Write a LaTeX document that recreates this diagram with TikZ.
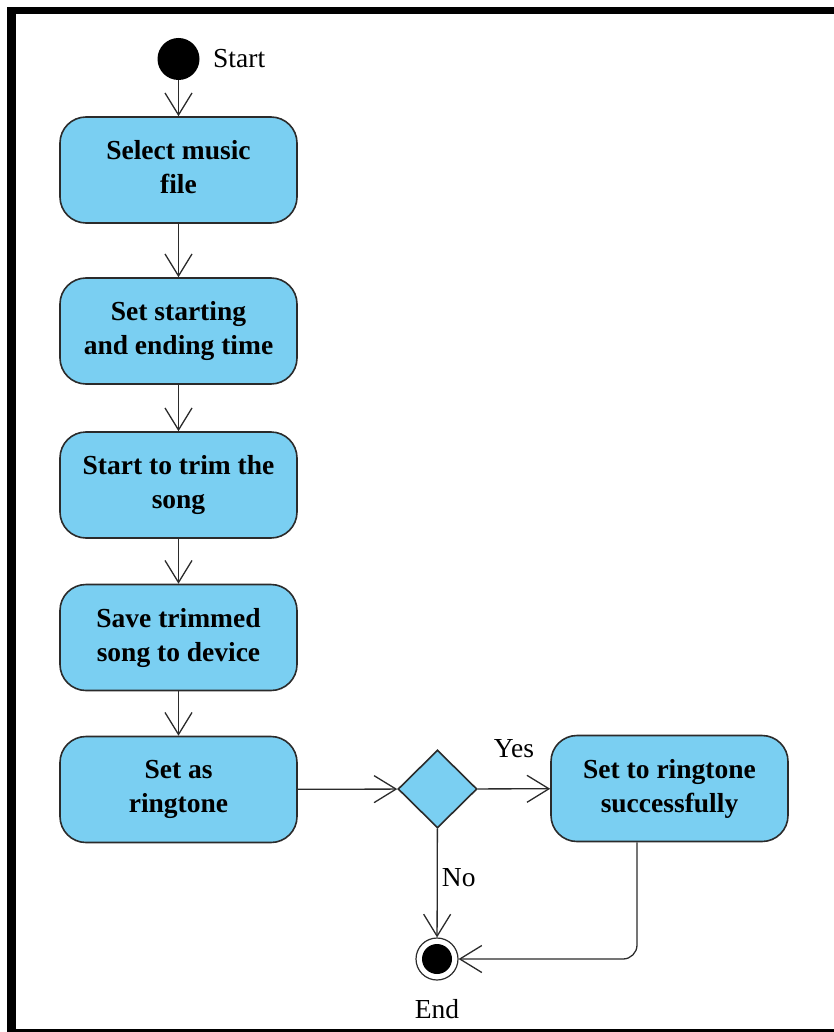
\documentclass[tikz,border=0pt]{standalone}
\usepackage{fontspec}
\setmainfont{Liberation Serif}
\usetikzlibrary{arrows.meta,shapes.geometric}
\definecolor{actfill}{HTML}{7ACFF2}
\definecolor{edge}{HTML}{2B2B2B}
\begin{document}
\begin{tikzpicture}[x=1pt,y=-1pt,
  activity/.style={draw=edge, line width=1.6pt, fill=actfill, rounded corners=26pt,
    minimum width=237pt, minimum height=106pt, align=center, inner sep=0pt,
    font=\fontsize{27.5}{34}\selectfont\bfseries},
  flow/.style={draw=edge, line width=1.3pt,
    -{Straight Barb[length=22pt,width=27pt,line width=1.3pt]}},
  lbl/.style={font=\fontsize{27.5}{34}\selectfont, inner sep=0pt},
]
\useasboundingbox (0,0) rectangle (834,1032);

% frame
\fill[black] (7,7) rectangle (834,14.5);
\fill[black] (7,7) rectangle (16,1032);
\fill[black] (7,1029) rectangle (834,1032);

% initial node
\node[circle, fill=black, minimum size=42pt, inner sep=0pt] (start) at (178.5,59) {};
\node[lbl, anchor=west] (startlbl) at (213,59) {Start};

% activities
\node[activity, text depth=7pt] (a1) at (178.5,170) {Select music\\file};
\node[activity] (a2) at (178.5,331)   {Set starting\\and ending time};
\node[activity] (a3) at (178.5,485)   {Start to trim the\\song};
\node[activity] (a4) at (178.5,637.5) {Save trimmed\\song to device};
\node[activity] (a5) at (178.5,789.5) {Set as\\ringtone};
\node[activity] (a6) at (669.5,788.5) {Set to ringtone\\successfully};

% decision
\node[diamond, draw=edge, line width=1.6pt, fill=actfill, minimum width=79pt,
      minimum height=78pt, inner sep=0pt] (dec) at (437.5,789) {};

% final node
\node[circle, draw=edge, line width=1.2pt, fill=white, minimum size=42pt, inner sep=0pt] (end) at (437,959) {};
\node[circle, fill=black, minimum size=30pt, inner sep=0pt] (endin) at (end.center) {};
\node[lbl] (endlbl) at (437,1009) {End};

% flows
\draw[flow] (start) -- (a1);
\draw[flow] (a1) -- (a2);
\draw[flow] (a2) -- (a3);
\draw[flow] (a3) -- (a4);
\draw[flow] (a4) -- (a5);
\draw[flow] (a5) -- (dec);
\draw[flow] (dec) -- (a6) node[lbl, pos=0.5, yshift=40pt] (yes) {Yes};
\draw[flow] (dec) -- (end) node[lbl, pos=0.45, anchor=west, xshift=4pt] (no) {No};
\coordinate (bend) at (637,959);
\draw[flow, rounded corners=14pt] (a6.south -| bend) -- (bend) -- (end);
\end{tikzpicture}
\end{document}
